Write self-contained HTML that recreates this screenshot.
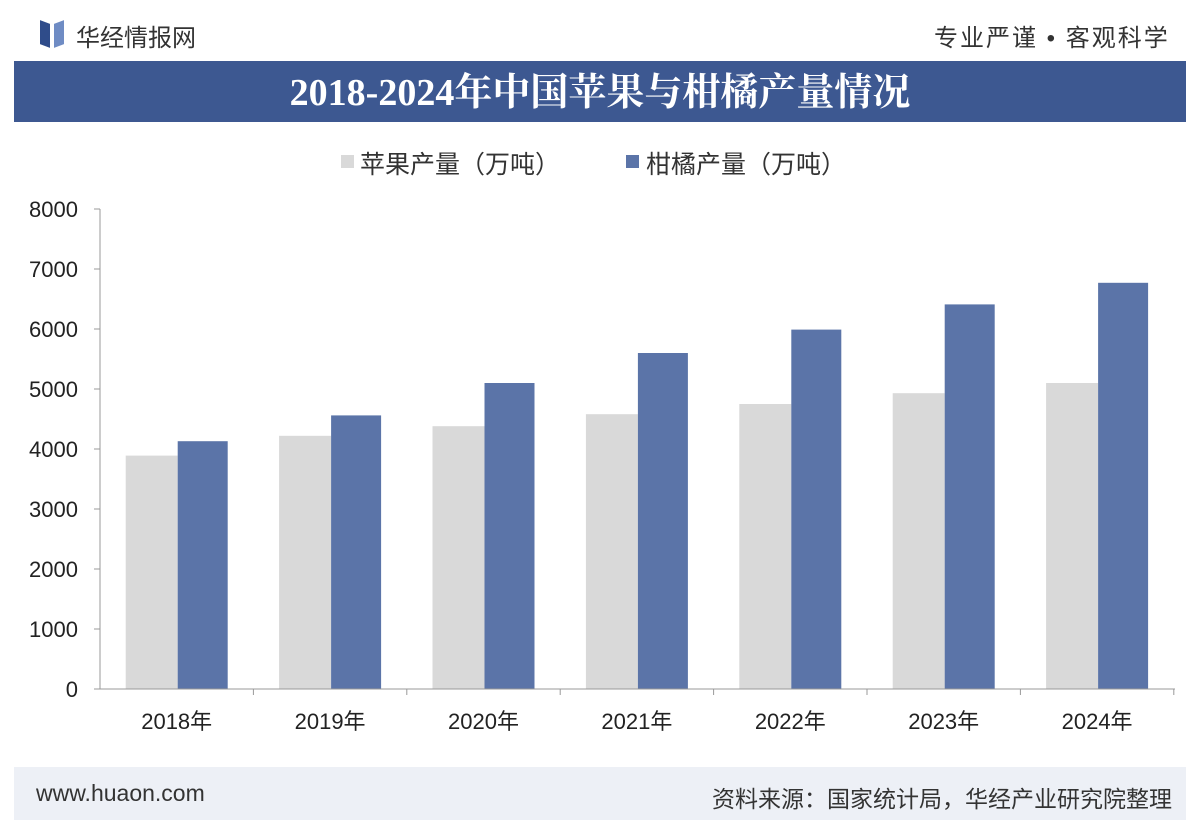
<!DOCTYPE html>
<html><head><meta charset="utf-8"><style>
body{margin:0;width:1200px;height:829px;background:#fff;font-family:"Liberation Sans","Noto Sans CJK SC",sans-serif;overflow:hidden;position:relative}
.abs{position:absolute}
</style></head><body>
<div class="abs" style="left:40px;top:22px;width:10px;height:24px;background:#2f4c8a;transform:skewY(20deg)"></div>
<div class="abs" style="left:54px;top:22px;width:10px;height:24px;background:#6f8cc4;transform:skewY(-20deg)"></div>
<div class="abs" style="left:76px;top:18px;font-size:24px;color:#333">华经情报网</div>
<div class="abs" style="left:934px;top:18px;font-size:24px;color:#333;letter-spacing:2px">专业严谨 • 客观科学</div>
<div class="abs" style="left:14px;top:61px;width:1172px;height:61px;background:#3d5891"></div>
<div class="abs" style="left:14px;top:71px;width:1172px;text-align:center;font-size:38px;line-height:44px;font-weight:bold;color:#fff;font-family:'Liberation Serif','Noto Serif CJK SC',serif">2018-2024年中国苹果与柑橘产量情况</div>
<div class="abs" style="left:341px;top:155px;width:13px;height:13px;background:#d9d9d9"></div>
<div class="abs" style="left:360px;top:145px;font-size:25px;color:#333">苹果产量（万吨）</div>
<div class="abs" style="left:626px;top:155px;width:13px;height:13px;background:#5b74a8"></div>
<div class="abs" style="left:646px;top:145px;font-size:25px;color:#333">柑橘产量（万吨）</div>
<svg class="abs" style="left:0;top:0" width="1200" height="829">
<g font-family="Liberation Sans" font-size="22" fill="#222" text-anchor="end">
<text x="78" y="217">8000</text><text x="78" y="277">7000</text><text x="78" y="337">6000</text><text x="78" y="397">5000</text><text x="78" y="457">4000</text><text x="78" y="517">3000</text><text x="78" y="577">2000</text><text x="78" y="637">1000</text><text x="78" y="697">0</text>
</g>
<line x1="100" y1="209" x2="100" y2="689" stroke="#999"/>
<g stroke="#999"><line x1="94" y1="209" x2="100" y2="209"/><line x1="94" y1="269" x2="100" y2="269"/><line x1="94" y1="329" x2="100" y2="329"/><line x1="94" y1="389" x2="100" y2="389"/><line x1="94" y1="449" x2="100" y2="449"/><line x1="94" y1="509" x2="100" y2="509"/><line x1="94" y1="569" x2="100" y2="569"/><line x1="94" y1="629" x2="100" y2="629"/><line x1="94" y1="689" x2="100" y2="689"/></g>
<g id="bars"></g>
<line x1="100" y1="689" x2="1175" y2="689" stroke="#999"/>
</svg>
<div class="abs" style="left:14px;top:767px;width:1172px;height:53px;background:#edf0f6"></div>
<div class="abs" style="left:36px;top:780px;font-size:23px;color:#333">www.huaon.com</div>
<div class="abs" style="right:28px;top:780px;font-size:23px;color:#333">资料来源：国家统计局，华经产业研究院整理</div>
<script>
var a=[3890,4220,4380,4580,4750,4930,5100],c=[4130,4560,5100,5600,5990,6410,6770];
var s='';for(var i=0;i<7;i++){var x0=100+i*153.4;var cx=x0+76.7;
s+='<rect x="'+(cx-51)+'" y="'+(689-a[i]*0.06)+'" width="52" height="'+(a[i]*0.06)+'" fill="#d9d9d9"/>';
s+='<rect x="'+(cx+1)+'" y="'+(689-c[i]*0.06)+'" width="50" height="'+(c[i]*0.06)+'" fill="#5b74a8"/>';
s+='<line x1="'+(x0+153.4)+'" y1="689" x2="'+(x0+153.4)+'" y2="695" stroke="#999"/>';
s+='<text x="'+cx+'" y="729" font-size="22" text-anchor="middle" fill="#222" font-family="Liberation Sans,Noto Sans CJK SC">'+(2018+i)+'年</text>';}
document.getElementById('bars').innerHTML=s;
</script>
</body></html>
